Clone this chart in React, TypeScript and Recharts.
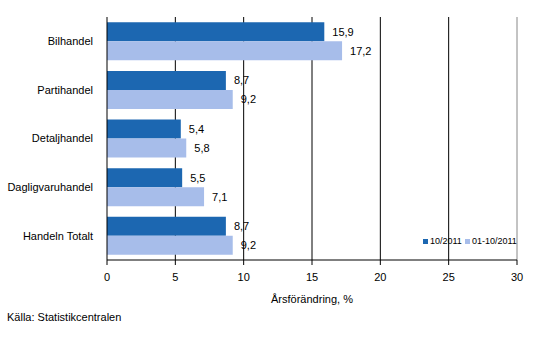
import React from "react";
import {
  BarChart,
  Bar,
  XAxis,
  YAxis,
  CartesianGrid,
  LabelList,
  ReferenceLine,
} from "recharts";

const categories = [
  "Bilhandel",
  "Partihandel",
  "Detaljhandel",
  "Dagligvaruhandel",
  "Handeln Totalt",
];
const month = [15.9, 8.7, 5.4, 5.5, 8.7];
const period = [17.2, 9.2, 5.8, 7.1, 9.2];
const xTicks = [0, 5, 10, 15, 20, 25, 30];
const seriesNames = ["10/2011", "01-10/2011"];

const DARK = "#1c67b1";
const LIGHT = "#a7bdea";
const FONT = "'Liberation Sans', Arial, sans-serif";

const data = categories.map((name, i) => ({
  name,
  month: month[i],
  period: period[i],
}));

const fmt = (v: any) => String(v).replace(".", ",");

export default function App() {
  return (
    <div
      style={{
        position: "absolute",
        left: 0,
        top: 0,
        width: 533,
        height: 359,
        background: "#fff",
        fontFamily: FONT,
      }}
    >
      <BarChart
        width={533}
        height={335}
        data={data}
        layout="vertical"
        margin={{ top: 17, right: 16, bottom: 15, left: 0 }}
        barCategoryGap="11%"
        barGap={0}
      >
        <CartesianGrid
          horizontal={false}
          stroke="#000"
          verticalCoordinatesGenerator={({ offset }: any) =>
            [5, 10, 15, 20, 25].map(
              (t) => offset.left + (t / 30) * offset.width
            )
          }
        />
        <XAxis
          type="number"
          domain={[0, 30]}
          ticks={xTicks}
          interval={0}
          height={60}
          stroke="#000"
          tickSize={5}
          tick={{ fontSize: 11, fill: "#000", fontFamily: FONT }}
          tickMargin={8}
          label={{
            value: "Årsförändring, %",
            position: "insideBottom",
            offset: 17,
            fontSize: 11,
            fill: "#000",
            fontFamily: FONT,
          }}
        />
        <XAxis
          xAxisId="top"
          orientation="top"
          type="number"
          domain={[0, 30]}
          height={0}
          tick={false}
          tickLine={false}
          stroke="#000"
        />
        <YAxis
          type="category"
          dataKey="name"
          width={107}
          stroke="#000"
          tickLine={false}
          tick={{ fontSize: 11, fill: "#000", fontFamily: FONT }}
          tickMargin={8}
        />
        <ReferenceLine x={30} stroke="#888" />
        <Bar
          dataKey="month"
          name={seriesNames[0]}
          fill={DARK}
          isAnimationActive={false}
        >
          <LabelList
            dataKey="month"
            position="right"
            offset={8}
            formatter={fmt}
            style={{ fontSize: 11, fill: "#000", fontFamily: FONT }}
          />
        </Bar>
        <Bar
          dataKey="period"
          name={seriesNames[1]}
          fill={LIGHT}
          isAnimationActive={false}
        >
          <LabelList
            dataKey="period"
            position="right"
            offset={8}
            formatter={fmt}
            style={{ fontSize: 11, fill: "#000", fontFamily: FONT }}
          />
        </Bar>
      </BarChart>
      <div
        style={{
          position: "absolute",
          left: 423,
          top: 236,
          display: "flex",
          alignItems: "center",
          fontSize: 9,
          color: "#000",
          whiteSpace: "nowrap",
        }}
      >
        {seriesNames.map((n, i) => (
          <span
            key={n}
            style={{ display: "flex", alignItems: "center", marginRight: 3 }}
          >
            <span
              style={{
                display: "inline-block",
                width: 5,
                height: 5,
                background: i === 0 ? DARK : LIGHT,
                marginRight: 2,
              }}
            />
            {n}
          </span>
        ))}
      </div>
      <div
        style={{
          position: "absolute",
          left: 7,
          top: 311,
          fontSize: 11,
          color: "#000",
        }}
      >
        Källa: Statistikcentralen
      </div>
    </div>
  );
}
